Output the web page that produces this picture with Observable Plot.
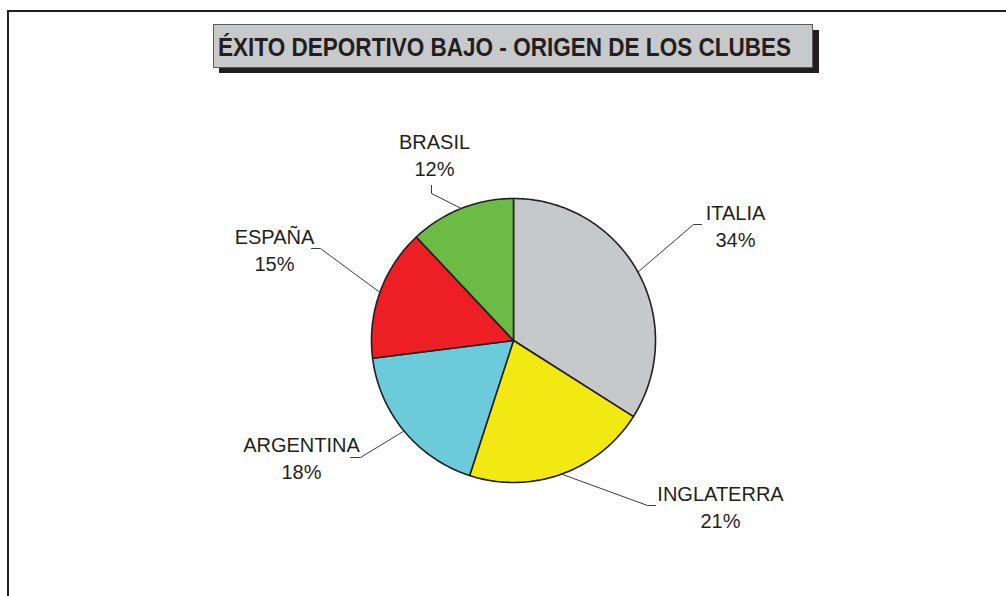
<!DOCTYPE html>
<html>
<head>
<meta charset="utf-8">
<script src="https://cdn.jsdelivr.net/npm/d3@7"></script>
<script src="https://cdn.jsdelivr.net/npm/@observablehq/plot@0.6"></script>
<style>
  html, body { margin: 0; padding: 0; background: #fff; }
  #wrap { position: relative; width: 1006px; height: 596px; overflow: hidden; }
  #frame { position: absolute; left: 7px; top: 10px; right: -4px; bottom: -4px;
           border-top: 2px solid #231f20; border-left: 2px solid #231f20; }
  #shadow { position: absolute; left: 219px; top: 30px; width: 600px; height: 43px; background: #231f20; }
  #titlebox { position: absolute; left: 213px; top: 24px; width: 598px; height: 42px;
              background: #c8c9cb; border: 1px solid #5a5a5a; }
  #titlebox svg { position: absolute; left: 0; top: 0; overflow: visible; }
  #chart { position: absolute; left: 0; top: 0; }
</style>
</head>
<body>
<div id="wrap">
  <div id="frame"></div>
  <div id="chart"></div>
  <div id="shadow"></div>
  <div id="titlebox">
    <svg width="598" height="42">
      <text transform="translate(4,30.5) scale(0.867,1)" x="0" y="0"
            font-family="Liberation Sans, Arial, sans-serif" font-weight="bold"
            font-size="26" fill="#231f20">ÉXITO DEPORTIVO BAJO - ORIGEN DE LOS CLUBES</text>
    </svg>
  </div>
</div>
<script>
// ---- data ----
const names  = ["ITALIA", "INGLATERRA", "ARGENTINA", "ESPAÑA", "BRASIL"];
const shares = [34, 21, 18, 15, 12];
const colors = ["#c7c8ca", "#f2e912", "#6ccbdb", "#ed1f24", "#6cbb45"];

// ---- layout (pixels relative to pie centre) ----
const W = 1006, H = 596, cx = 513, cy = 340, R = 142;
const labelCenter = [[222, -116], [207, 165], [-212, 116], [-239, -92], [-79, -187]];
const elbow       = [[180, -116], [134, 165], [-153, 117], [-193, -92], [-82, -147]];
const elbowEnd    = [[188, -116], [142, 165], [-163, 117], [-202, -92], [-82, -155]];

// ---- geometry from data ----
const total = d3.sum(shares);
let acc = 0;
const slices = names.map((name, i) => {
  const a0 = acc / total * 2 * Math.PI;
  acc += shares[i];
  const a1 = acc / total * 2 * Math.PI;
  return {name, share: shares[i], color: colors[i], a0, a1, mid: (a0 + a1) / 2};
});
const px = (p) => ({x: p[0] / R, y: -p[1] / R});

const marks = [];
for (const s of slices) {
  const pts = [{x: 0, y: 0}];
  const n = Math.max(2, Math.ceil((s.a1 - s.a0) / (Math.PI / 180)));
  for (let k = 0; k <= n; k++) {
    const a = s.a0 + (s.a1 - s.a0) * k / n;
    pts.push({x: Math.sin(a), y: Math.cos(a)});
  }
  marks.push(Plot.line(pts, {x: "x", y: "y", curve: "linear-closed", fill: s.color,
    stroke: "#231f20", strokeWidth: 1.6, strokeLinejoin: "round"}));
}
slices.forEach((s, i) => {
  const pts = [{x: Math.sin(s.mid), y: Math.cos(s.mid)}, px(elbow[i]), px(elbowEnd[i])];
  marks.push(Plot.line(pts, {x: "x", y: "y", stroke: "#3a3a3a", strokeWidth: 1}));
});
const labels = slices.map((s, i) => ({...px(labelCenter[i]), text: `${s.name}\n${s.share}%`}));
marks.push(Plot.text(labels, {x: "x", y: "y", text: "text", lineAnchor: "middle",
  fontSize: 20, lineHeight: 1.35, fill: "#231f20", fontFamily: "Liberation Sans, Arial, sans-serif"}));

const chart = Plot.plot({
  width: W, height: H, margin: 0,
  x: {domain: [-cx / R, (W - cx) / R], range: [0, W], axis: null},
  y: {domain: [-(H - cy) / R, cy / R], range: [H, 0], axis: null},
  style: {background: "transparent"},
  marks
});
document.getElementById("chart").appendChild(chart);
</script>
</body>
</html>
